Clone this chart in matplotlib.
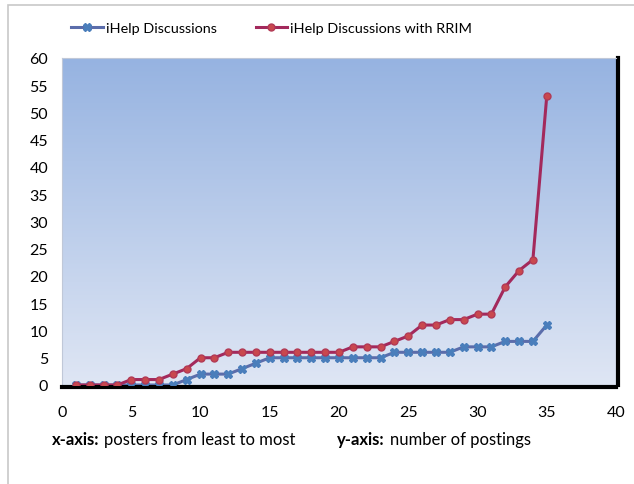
import numpy as np
import matplotlib
matplotlib.use("Agg")
import matplotlib.pyplot as plt
from matplotlib.patches import Rectangle

plt.rcParams['font.family'] = ['Lato', 'DejaVu Sans']

# --- data ---
posters = list(range(1, 36))
ihelp = [0, 0, 0, 0, 0, 0, 0, 0, 1, 2, 2, 2, 3, 4, 5, 5, 5, 5, 5, 5, 5, 5, 5,
         6, 6, 6, 6, 6, 7, 7, 7, 8, 8, 8, 11]
ihelp_rrim = [0, 0, 0, 0, 1, 1, 1, 2, 3, 5, 5, 6, 6, 6, 6, 6, 6, 6, 6, 6, 7, 7, 7,
              8, 9, 11, 11, 12, 12, 13, 13, 18, 21, 23, 53]
x_ticks = list(range(0, 41, 5))
y_ticks = list(range(0, 61, 5))

fig = plt.figure(figsize=(6.34, 4.85), dpi=100)

# outer frame of the chart object
fig.patches.append(Rectangle((8 / 634, -0.1), 1.2, 1 - 6 / 485 + 0.1,
                             transform=fig.transFigure, fill=False,
                             edgecolor='#c8c8c8', linewidth=1.2))

ax = fig.add_axes([62 / 634, 1 - 386 / 485, (616 - 62) / 634, (386 - 59) / 485])

# gradient plot area
grad = np.linspace(0, 1, 256).reshape(-1, 1)
cmap = matplotlib.colors.LinearSegmentedColormap.from_list(
    'bg', ['#dfe6f4', '#96b3e1'])
ax.imshow(grad, aspect='auto', cmap=cmap, origin='lower',
          extent=[0, 1, 0, 1], transform=ax.transAxes, zorder=0)

ax.plot(posters, ihelp, color='#5b6dab', lw=2.2, marker='X', ms=5.5,
        mfc='#4a7ebb', mec='#4a7ebb', label='iHelp Discussions', zorder=3)
ax.plot(posters, ihelp_rrim, color='#a3295c', lw=2.2, marker='o', ms=5,
        mfc='#c9484e', mec='#b23a55', label='iHelp Discussions with RRIM', zorder=4)

ax.set_xlim(0, 40)
ax.set_ylim(0, 60)
ax.set_xticks(x_ticks)
ax.set_yticks(y_ticks)
ax.tick_params(length=0, labelsize=11.5, colors='black')
ax.tick_params(axis='x', pad=13)
ax.tick_params(axis='y', pad=10)

for s in ['top', 'left']:
    ax.spines[s].set_color('#c0c8d8')
    ax.spines[s].set_linewidth(0.8)
for s in ['bottom', 'right']:
    ax.spines[s].set_color('black')
    ax.spines[s].set_linewidth(3)
    ax.spines[s].set_position(('outward', 1.5))

leg = ax.legend(loc='center left', bbox_to_anchor=(71 / 634, 1 - 29 / 485),
                bbox_transform=fig.transFigure, ncol=2, frameon=False,
                fontsize=10.4, handlelength=2.2, handletextpad=0.2,
                columnspacing=2.7, borderaxespad=0, borderpad=0)

# footer with axis descriptions
ty = 1 - 440 / 485
fig.text(52 / 634, ty, 'x-axis:', fontsize=12, fontweight='bold', va='center')
fig.text(104 / 634, ty, 'posters from least to most', fontsize=12, va='center')
fig.text(337 / 634, ty, 'y-axis:', fontsize=12, fontweight='bold', va='center')
fig.text(390 / 634, ty, 'number of postings', fontsize=12, va='center')

fig.savefig('out.png', dpi=100)
